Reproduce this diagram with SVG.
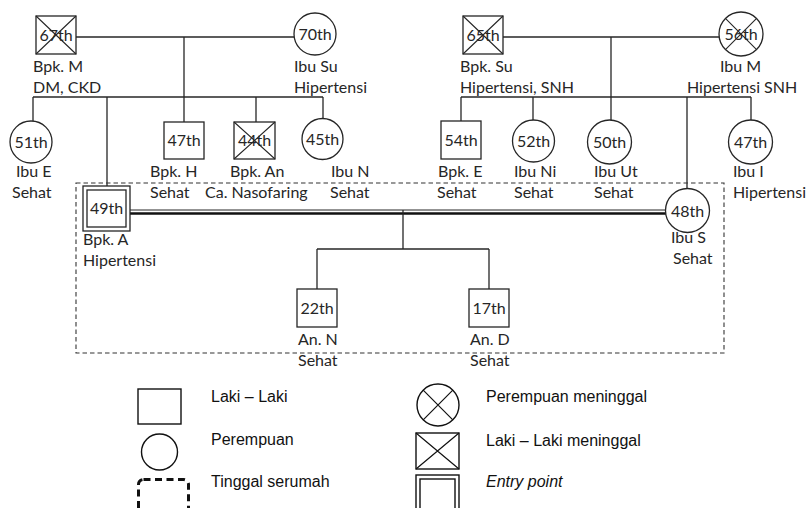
<svg xmlns="http://www.w3.org/2000/svg" width="806" height="508" viewBox="0 0 806 508">
<style>
.s{fill:#fff;stroke:#262626;stroke-width:1.3}
.x{stroke:#262626;stroke-width:1.1;fill:none}
.c{stroke:#262626;stroke-width:1.3;fill:none}
.t{font-family:Lato,"Liberation Sans",sans-serif;font-size:16px;fill:#262626}
.n{font-family:Lato,"Liberation Sans",sans-serif;font-size:16px;fill:#262626;text-anchor:middle}
.lg{font-family:"Liberation Sans",Arial,sans-serif;font-size:16px;fill:#111}
</style>
<rect width="806" height="508" fill="#fff"/>
<g id="connectors">
<line class="c" x1="76" y1="37" x2="294" y2="37"/>
<line class="c" x1="184" y1="37" x2="184" y2="97"/>
<line class="c" x1="33" y1="97" x2="323" y2="97"/>
<line class="c" x1="33" y1="97" x2="33" y2="121"/>
<line class="c" x1="107" y1="97" x2="107" y2="186"/>
<line class="c" x1="184" y1="97" x2="184" y2="122"/>
<line class="c" x1="256" y1="97" x2="256" y2="122"/>
<line class="c" x1="323" y1="97" x2="323" y2="119"/>
<line class="c" x1="503" y1="37" x2="719" y2="37"/>
<line class="c" x1="611" y1="37" x2="611" y2="97"/>
<line class="c" x1="461" y1="97" x2="751" y2="97"/>
<line class="c" x1="461" y1="97" x2="461" y2="121"/>
<line class="c" x1="533" y1="97" x2="533" y2="121"/>
<line class="c" x1="611" y1="97" x2="611" y2="121"/>
<line class="c" x1="687" y1="97" x2="687" y2="189"/>
<line class="c" x1="751" y1="97" x2="751" y2="121"/>
<line stroke="#262626" stroke-width="1" x1="130" y1="210" x2="666" y2="210"/>
<line stroke="#111" stroke-width="2.6" x1="130" y1="213.5" x2="666" y2="213.5"/>
<line class="c" x1="403" y1="210" x2="403" y2="249"/>
<line class="c" x1="317" y1="249" x2="489" y2="249"/>
<line class="c" x1="317" y1="249" x2="317" y2="289"/>
<line class="c" x1="489" y1="249" x2="489" y2="289"/>
</g>
<rect id="household" x="76" y="183" width="648" height="170" fill="none" stroke="#333" stroke-width="1.1" stroke-dasharray="4.5 3"/>
<g id="bpk-m"><rect class="s" x="36" y="16" width="40" height="38"/><path class="x" d="M36 16L76 54M76 16L36 54"/><text class="n" x="56" y="41">67th</text><text class="t" x="33" y="72">Bpk. M</text><text class="t" x="33" y="93">DM, CKD</text></g>
<g id="ibu-su"><circle class="s" cx="315" cy="34" r="21"/><text class="n" x="315" y="40">70th</text><text class="t" x="294" y="72">Ibu Su</text><text class="t" x="294" y="93">Hipertensi</text></g>
<g id="bpk-su"><rect class="s" x="463" y="16" width="40" height="38"/><path class="x" d="M463 16L503 54M503 16L463 54"/><text class="n" x="483" y="41">65th</text><text class="t" x="460" y="72">Bpk. Su</text><text class="t" x="460" y="93">Hipertensi, SNH</text></g>
<g id="ibu-m"><circle class="s" cx="741" cy="34" r="22"/><path class="x" d="M725.4 18.4L756.6 49.6M756.6 18.4L725.4 49.6"/><text class="n" x="741" y="40">56th</text><text class="t" x="720" y="72">Ibu M</text><text class="t" x="687" y="93">Hipertensi SNH</text></g>
<g id="ibu-e"><circle class="s" cx="31" cy="142" r="21"/><text class="n" x="31" y="148">51th</text><text class="t" x="16" y="177">Ibu E</text><text class="t" x="12" y="198">Sehat</text></g>
<g id="bpk-h"><rect class="s" x="164" y="122" width="40" height="37"/><text class="n" x="184" y="146">47th</text><text class="t" x="150" y="177">Bpk. H</text><text class="t" x="150" y="198">Sehat</text></g>
<g id="bpk-an"><rect class="s" x="234" y="122" width="41" height="37"/><path class="x" d="M234 122L275 159M275 122L234 159"/><text class="n" x="254.5" y="146">44th</text><text class="t" x="230" y="177">Bpk. An</text><text class="t" x="205" y="198">Ca. Nasofaring</text></g>
<g id="ibu-n"><circle class="s" cx="322.5" cy="139" r="20.5"/><text class="n" x="322.5" y="145">45th</text><text class="t" x="331" y="177">Ibu N</text><text class="t" x="330" y="198">Sehat</text></g>
<g id="bpk-e"><rect class="s" x="441" y="121" width="40" height="38"/><text class="n" x="461" y="146">54th</text><text class="t" x="438" y="177">Bpk. E</text><text class="t" x="437" y="198">Sehat</text></g>
<g id="ibu-ni"><circle class="s" cx="533.5" cy="141" r="21"/><text class="n" x="533.5" y="147">52th</text><text class="t" x="514" y="177">Ibu Ni</text><text class="t" x="514" y="198">Sehat</text></g>
<g id="ibu-ut"><circle class="s" cx="609.5" cy="142" r="22"/><text class="n" x="609.5" y="148">50th</text><text class="t" x="594" y="177">Ibu Ut</text><text class="t" x="594" y="198">Sehat</text></g>
<g id="ibu-i"><circle class="s" cx="750.5" cy="142" r="22"/><text class="n" x="750.5" y="148">47th</text><text class="t" x="733" y="177">Ibu I</text><text class="t" x="733" y="198">Hipertensi</text></g>
<g id="bpk-a"><rect class="s" x="83" y="186" width="47" height="45"/><rect class="s" x="87" y="190" width="39" height="37"/><text class="n" x="106.5" y="214">49th</text><text class="t" x="83" y="245">Bpk. A</text><text class="t" x="83" y="266">Hipertensi</text></g>
<g id="ibu-s"><circle class="s" cx="687.5" cy="210.5" r="22"/><text class="n" x="687.5" y="216.5">48th</text><text class="t" x="671" y="243">Ibu S</text><text class="t" x="673" y="264">Sehat</text></g>
<g id="an-n"><rect class="s" x="297" y="289" width="40" height="38"/><text class="n" x="317" y="314">22th</text><text class="t" x="298" y="345">An. N</text><text class="t" x="298" y="366">Sehat</text></g>
<g id="an-d"><rect class="s" x="469" y="289" width="40" height="38"/><text class="n" x="489" y="314">17th</text><text class="t" x="470" y="345">An. D</text><text class="t" x="470" y="366">Sehat</text></g>
<g id="legend">
<rect x="138" y="389" width="43" height="35" fill="#fff" stroke="#111" stroke-width="1.4"/>
<text class="lg" x="211" y="402">Laki – Laki</text>
<circle cx="159.5" cy="452" r="18" fill="#fff" stroke="#111" stroke-width="1.4"/>
<text class="lg" x="211" y="445">Perempuan</text>
<rect x="138.5" y="479.5" width="50" height="45" rx="5" fill="none" stroke="#111" stroke-width="3" stroke-dasharray="7 4.5"/>
<text class="lg" x="211" y="487">Tinggal serumah</text>
<circle cx="438" cy="405" r="21" fill="#fff" stroke="#111" stroke-width="1.4"/>
<path d="M423.2 390.2L452.8 419.8M452.8 390.2L423.2 419.8" stroke="#111" stroke-width="1.2" fill="none"/>
<text class="lg" x="486" y="402">Perempuan meninggal</text>
<rect x="416" y="433" width="43" height="36" fill="#fff" stroke="#111" stroke-width="1.4"/>
<path d="M416 433L459 469M459 433L416 469" stroke="#111" stroke-width="1.2" fill="none"/>
<text class="lg" x="486" y="446">Laki – Laki meninggal</text>
<rect x="416" y="475" width="43" height="45" fill="#fff" stroke="#111" stroke-width="1.4"/>
<rect x="420" y="479" width="35" height="37" fill="none" stroke="#111" stroke-width="1.4"/>
<text class="lg" x="486" y="487" font-style="italic">Entry point</text>
</g>
</svg>
